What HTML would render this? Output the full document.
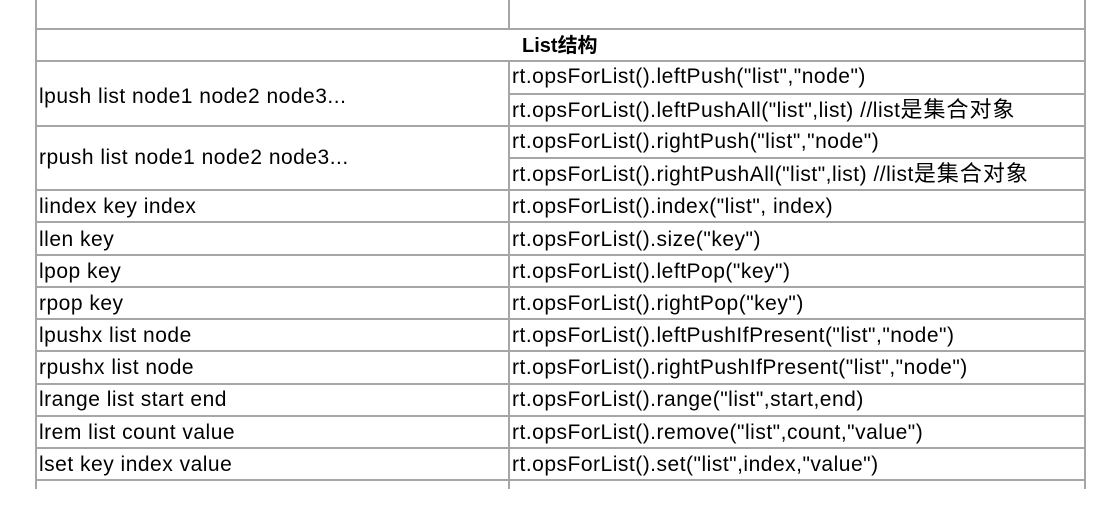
<!DOCTYPE html>
<html><head><meta charset="utf-8"><style>
body{margin:0;width:1106px;height:525px;background:#fff;position:relative;overflow:hidden;font-family:"Liberation Sans","Noto Sans CJK SC",sans-serif;font-size:21px;letter-spacing:0.5px;color:#000}
.h{position:absolute;height:2px;background:#a6a6a6}
.v{position:absolute;width:2px;background:#a6a6a6}
.t{position:absolute;white-space:nowrap;line-height:24px}
.c{font-size:22px;letter-spacing:1px}
</style></head><body>
<div class="v" style="left:35px;top:0;height:489px"></div>
<div class="v" style="left:1084px;top:0;height:489px"></div>
<div class="v" style="left:508px;top:0;height:29px"></div>
<div class="v" style="left:508px;top:61px;height:428px"></div>
<div class="h" style="left:35px;width:1051px;top:28px"></div>
<div class="h" style="left:35px;width:1051px;top:60px"></div>
<div class="h" style="left:508px;width:578px;top:93px"></div>
<div class="h" style="left:35px;width:1051px;top:125px"></div>
<div class="h" style="left:508px;width:578px;top:157px"></div>
<div class="h" style="left:35px;width:1051px;top:189px"></div>
<div class="h" style="left:35px;width:1051px;top:221px"></div>
<div class="h" style="left:35px;width:1051px;top:254px"></div>
<div class="h" style="left:35px;width:1051px;top:286px"></div>
<div class="h" style="left:35px;width:1051px;top:318px"></div>
<div class="h" style="left:35px;width:1051px;top:350px"></div>
<div class="h" style="left:35px;width:1051px;top:383px"></div>
<div class="h" style="left:35px;width:1051px;top:415px"></div>
<div class="h" style="left:35px;width:1051px;top:447px"></div>
<div class="h" style="left:35px;width:1051px;top:479px"></div>
<div class="t" style="left:522px;top:34px;font-weight:bold;font-size:20px;letter-spacing:0">List<span class="c" style="letter-spacing:0;font-size:20px">结构</span></div>
<div class="t" style="left:39px;top:85px">lpush list node1 node2 node3...</div>
<div class="t" style="left:39px;top:146px">rpush list node1 node2 node3...</div>
<div class="t" style="left:512px;top:65px">rt.opsForList().leftPush("list","node")</div>
<div class="t" style="left:512px;top:98px">rt.opsForList().leftPushAll("list",list) //list<span class="c">是集合对象</span></div>
<div class="t" style="left:512px;top:130px">rt.opsForList().rightPush("list","node")</div>
<div class="t" style="left:512px;top:162px">rt.opsForList().rightPushAll("list",list) //list<span class="c">是集合对象</span></div>
<div class="t" style="left:39px;top:195px">lindex key index</div>
<div class="t" style="left:512px;top:195px">rt.opsForList().index("list", index)</div>
<div class="t" style="left:39px;top:228px">llen key</div>
<div class="t" style="left:512px;top:228px">rt.opsForList().size("key")</div>
<div class="t" style="left:39px;top:260px">lpop key</div>
<div class="t" style="left:512px;top:260px">rt.opsForList().leftPop("key")</div>
<div class="t" style="left:39px;top:292px">rpop key</div>
<div class="t" style="left:512px;top:292px">rt.opsForList().rightPop("key")</div>
<div class="t" style="left:39px;top:324px">lpushx list node</div>
<div class="t" style="left:512px;top:324px">rt.opsForList().leftPushIfPresent("list","node")</div>
<div class="t" style="left:39px;top:356px">rpushx list node</div>
<div class="t" style="left:512px;top:356px">rt.opsForList().rightPushIfPresent("list","node")</div>
<div class="t" style="left:39px;top:388px">lrange list start end</div>
<div class="t" style="left:512px;top:388px">rt.opsForList().range("list",start,end)</div>
<div class="t" style="left:39px;top:421px">lrem list count value</div>
<div class="t" style="left:512px;top:421px">rt.opsForList().remove("list",count,"value")</div>
<div class="t" style="left:39px;top:453px">lset key index value</div>
<div class="t" style="left:512px;top:453px">rt.opsForList().set("list",index,"value")</div>
</body></html>
